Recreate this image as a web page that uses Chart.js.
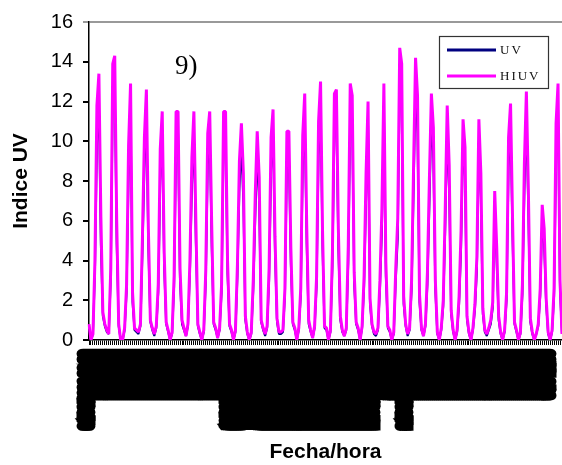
<!DOCTYPE html>
<html>
<head>
<meta charset="utf-8">
<title>Indice UV</title>
<script src="https://cdn.jsdelivr.net/npm/chart.js@4.4.1/dist/chart.umd.min.js"></script>
<style>
  html, body { margin: 0; padding: 0; background: #fff; }
  #wrap { position: relative; width: 562px; height: 465px; }
</style>
</head>
<body>
<div id="wrap"><canvas id="uvChart" width="562" height="465"></canvas></div>
<script>
// 30 days, 3-hourly samples (00,03,06,09,12,15,18,21 h)
const hiuvValues = [
  0.8, 0.0, 0.3, 4.0, 11.8, 13.4, 6.2, 1.4,
  0.8, 0.5, 0.3, 3.6, 13.9, 14.3, 6.0, 0.8,
  0.0, 0.0, 0.6, 2.8, 9.8, 12.9, 2.4, 0.6,
  0.5, 0.4, 0.8, 5.2, 10.2, 12.6, 5.6, 1.0,
  0.6, 0.3, 0.7, 2.8, 9.6, 11.5, 4.4, 0.9,
  0.5, 0.0, 0.4, 3.2, 11.5, 11.5, 3.6, 1.0,
  0.6, 0.2, 0.8, 4.0, 9.2, 11.5, 6.0, 0.8,
  0.4, 0.0, 0.5, 3.5, 10.4, 11.5, 5.8, 0.9,
  0.6, 0.1, 0.6, 2.8, 11.5, 11.5, 4.0, 0.8,
  0.5, 0.0, 0.5, 3.8, 9.0, 10.9, 8.4, 1.2,
  0.4, 0.0, 0.4, 3.0, 7.3, 10.5, 8.2, 1.0,
  0.6, 0.3, 0.7, 3.6, 10.2, 11.6, 5.2, 1.1,
  0.4, 0.4, 0.5, 2.6, 10.5, 10.5, 4.6, 0.9,
  0.6, 0.0, 0.6, 2.6, 10.3, 12.4, 5.8, 1.0,
  0.5, 0.1, 0.7, 3.2, 11.0, 13.0, 5.5, 0.7,
  0.6, 0.0, 0.5, 4.4, 12.4, 12.6, 5.6, 1.2,
  0.5, 0.2, 0.6, 4.7, 12.9, 12.3, 3.4, 0.9,
  0.6, 0.0, 0.7, 3.2, 8.4, 12.0, 2.1, 0.8,
  0.4, 0.3, 0.6, 3.0, 6.6, 12.9, 3.9, 0.7,
  0.5, 0.0, 0.4, 3.6, 6.1, 14.7, 13.9, 2.2,
  0.8, 0.3, 0.6, 3.0, 8.7, 14.2, 12.3, 2.3,
  0.6, 0.2, 0.8, 3.4, 8.1, 12.4, 10.7, 3.0,
  0.4, 0.0, 0.6, 2.0, 6.6, 11.8, 8.8, 1.5,
  0.5, 0.0, 0.5, 2.2, 5.5, 11.1, 9.7, 1.2,
  0.4, 0.0, 0.6, 1.8, 4.2, 11.1, 8.4, 1.6,
  0.5, 0.3, 0.6, 1.0, 1.9, 7.5, 4.7, 1.2,
  0.4, 0.0, 0.5, 2.4, 10.2, 11.9, 6.2, 0.9,
  0.5, 0.0, 0.4, 2.8, 8.9, 12.5, 7.6, 1.1,
  0.4, 0.0, 0.3, 0.8, 2.6, 6.8, 5.6, 2.1,
  0.4, 0.0, 0.5, 2.6, 10.9, 12.9, 3.0, 0.3
];

const uvValues = [
  0.7, 0.0, 0.3, 3.4, 9.8, 12.0, 4.8, 1.2,
  0.7, 0.4, 0.3, 3.1, 12.2, 12.8, 4.8, 0.7,
  0.0, 0.0, 0.5, 2.4, 8.2, 11.6, 1.9, 0.5,
  0.4, 0.3, 0.7, 4.4, 8.6, 11.3, 4.6, 0.9,
  0.5, 0.2, 0.6, 2.4, 8.0, 10.3, 3.6, 0.8,
  0.4, 0.0, 0.3, 2.7, 9.7, 10.4, 2.9, 0.8,
  0.5, 0.2, 0.7, 3.4, 7.7, 10.3, 4.9, 0.7,
  0.3, 0.0, 0.4, 2.9, 8.8, 10.4, 4.7, 0.8,
  0.5, 0.1, 0.5, 2.4, 9.8, 10.3, 3.3, 0.7,
  0.4, 0.0, 0.4, 3.2, 7.6, 9.8, 6.9, 1.0,
  0.3, 0.0, 0.3, 2.5, 6.1, 9.5, 6.8, 0.9,
  0.5, 0.2, 0.6, 3.0, 8.6, 10.4, 4.3, 0.9,
  0.3, 0.3, 0.4, 2.2, 8.9, 9.4, 3.8, 0.8,
  0.5, 0.0, 0.5, 2.2, 8.7, 11.2, 4.8, 0.8,
  0.4, 0.1, 0.6, 2.7, 9.3, 11.7, 4.6, 0.6,
  0.5, 0.0, 0.4, 3.7, 10.5, 11.3, 4.6, 1.0,
  0.4, 0.2, 0.5, 3.9, 11.0, 11.1, 2.8, 0.8,
  0.5, 0.0, 0.6, 2.7, 7.1, 10.8, 1.8, 0.7,
  0.3, 0.2, 0.5, 2.5, 5.5, 11.6, 3.2, 0.6,
  0.4, 0.0, 0.3, 3.0, 5.1, 13.2, 11.8, 1.8,
  0.7, 0.2, 0.5, 2.5, 7.4, 12.8, 10.4, 1.9,
  0.5, 0.2, 0.7, 2.8, 6.8, 11.2, 9.1, 2.5,
  0.3, 0.0, 0.5, 1.7, 5.6, 10.6, 7.4, 1.3,
  0.4, 0.0, 0.4, 1.8, 4.6, 10.0, 8.2, 1.0,
  0.3, 0.0, 0.5, 1.5, 3.5, 10.0, 7.1, 1.3,
  0.4, 0.2, 0.5, 0.8, 1.6, 6.8, 3.9, 1.0,
  0.3, 0.0, 0.4, 2.0, 8.7, 10.9, 5.2, 0.8,
  0.4, 0.0, 0.3, 2.3, 7.5, 11.3, 6.4, 0.9,
  0.3, 0.0, 0.3, 0.7, 2.2, 6.1, 4.7, 1.8,
  0.3, 0.0, 0.4, 2.2, 9.2, 11.6, 2.5, 0.3
];

// tick labels: date/hour of every sample; some stretches carry the full year
const hoursOfDay = ['00:00', '03:00', '06:00', '09:00', '12:00', '15:00', '18:00', '21:00'];
const longLabelRanges = [[0, 3], [72, 147], [161, 164]];
const lastLabelIndex = 236;

const timeLabels = [];
for (let i = 0; i < hiuvValues.length; i++) {
  const day = 1 + Math.floor(i / 8);
  const dd = String(day).padStart(2, '0');
  const isLong = longLabelRanges.some(r => i >= r[0] && i <= r[1]);
  let txt = isLong ? `${dd}/03/2006 ${hoursOfDay[i % 8]}` : `${dd}/3 ${hoursOfDay[i % 8]}`;
  if (i > lastLabelIndex) txt = '';
  timeLabels.push(txt);
}

const SANS = "'Liberation Sans', Arial, sans-serif";
const SERIF = "'Liberation Serif', 'Times New Roman', serif";

// legend box + panel tag drawn on top of the plot
const overlayPlugin = {
  id: 'overlay',
  afterDatasetsDraw(chart) {
    const ctx = chart.ctx;
    ctx.save();
    ctx.fillStyle = '#000';
    ctx.font = `27px ${SERIF}`;
    ctx.textBaseline = 'alphabetic';
    ctx.fillText('9)', 175, 74);

    ctx.fillStyle = '#fff';
    ctx.fillRect(439.5, 36.5, 109, 52);
    ctx.strokeStyle = '#333';
    ctx.lineWidth = 1.2;
    ctx.strokeRect(439.5, 36.5, 109, 52);

    ctx.lineWidth = 3;
    ctx.strokeStyle = '#000080';
    ctx.beginPath(); ctx.moveTo(447, 50); ctx.lineTo(496, 50); ctx.stroke();
    ctx.strokeStyle = '#ff00ff';
    ctx.beginPath(); ctx.moveTo(447, 76); ctx.lineTo(496, 76); ctx.stroke();

    ctx.fillStyle = '#111';
    ctx.font = `13px ${SERIF}`;
    ctx.letterSpacing = '2px';
    ctx.fillText('UV', 500, 54);
    ctx.fillText('HIUV', 500, 80);
    ctx.restore();
  }
};

new Chart(document.getElementById('uvChart'), {
  type: 'line',
  data: {
    labels: timeLabels,
    datasets: [
      {
        label: 'UV',
        data: uvValues,
        borderColor: '#000080',
        borderWidth: 2,
        pointRadius: 0,
        tension: 0,
        borderJoinStyle: 'bevel',
        order: 2
      },
      {
        label: 'HIUV',
        data: hiuvValues,
        borderColor: '#ff00ff',
        borderWidth: 3,
        pointRadius: 0,
        tension: 0,
        borderJoinStyle: 'bevel',
        order: 1
      }
    ]
  },
  options: {
    responsive: false,
    animation: false,
    layout: { padding: { top: 20, right: 0, left: 0, bottom: 0 } },
    plugins: {
      legend: { display: false },
      tooltip: { enabled: false }
    },
    scales: {
      x: {
        type: 'category',
        offset: false,
        border: { color: '#000', width: 1.5 },
        grid: { drawOnChartArea: false, drawTicks: true, tickLength: 5, color: '#000', lineWidth: 1 },
        ticks: {
          autoSkip: false,
          minRotation: 90,
          maxRotation: 90,
          padding: 6,
          labelOffset: -5,
          color: '#000',
          textStrokeColor: '#000',
          textStrokeWidth: 5,
          font: { family: SANS, size: 10 }
        },
        title: {
          display: true,
          text: 'Fecha/hora',
          color: '#000',
          padding: { top: 0, bottom: 0 },
          font: { family: SANS, size: 21, weight: 'bold' }
        },
        afterFit(scale) {
          scale.height = 125;
          scale.paddingLeft = 0;
          scale.paddingRight = 0;
        }
      },
      y: {
        min: 0,
        max: 16,
        border: { color: '#000', width: 1.5 },
        grid: {
          drawTicks: true,
          tickLength: 6,
          lineWidth: 2,
          color: c => (c.tick && c.tick.value === 16 ? '#999' : 'rgba(0,0,0,0)'),
          tickColor: c => (c.tick && c.tick.value === 16 ? '#999' : '#000')
        },
        ticks: {
          stepSize: 2,
          padding: 10,
          color: '#000',
          font: { family: SANS, size: 20 }
        },
        title: {
          display: true,
          text: 'Indice UV',
          color: '#000',
          padding: { top: 9, bottom: 0 },
          font: { family: SANS, size: 21, weight: 'bold' }
        },
        afterFit(scale) {
          scale.width = 89;
        }
      }
    }
  },
  plugins: [overlayPlugin]
});
</script>
</body>
</html>
